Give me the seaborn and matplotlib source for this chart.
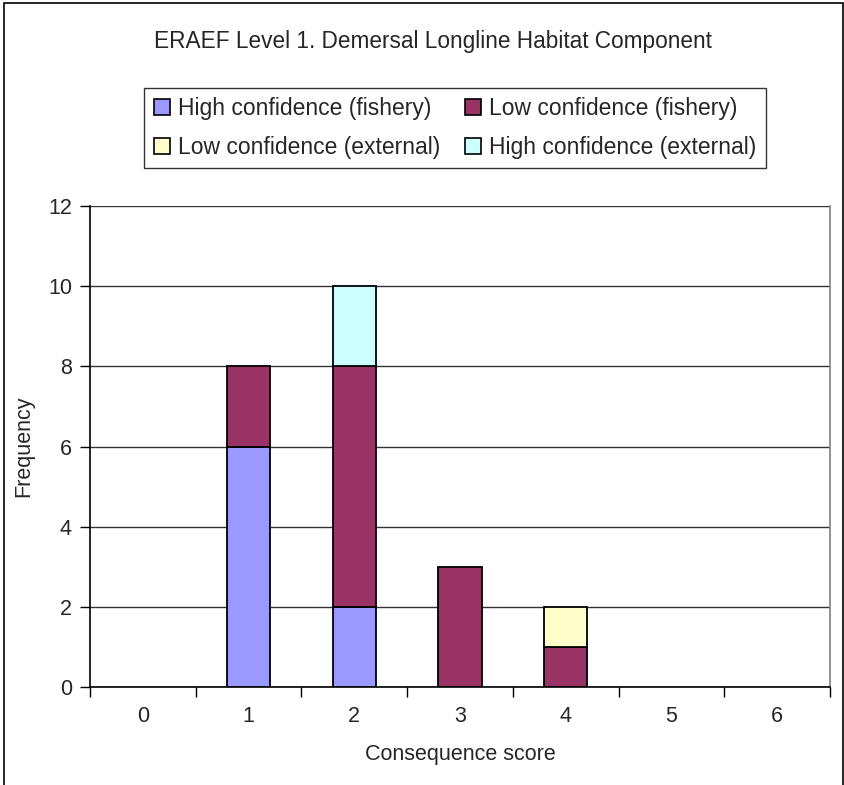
import numpy as np
import pandas as pd
import matplotlib
matplotlib.use("Agg")
import matplotlib.pyplot as plt
from matplotlib.patches import Rectangle
import seaborn as sns

# Consequence scores and frequency of each confidence class
scores = ["0", "1", "2", "3", "4", "5", "6"]
high_fishery = [0, 6, 2, 0, 0, 0, 0]
low_fishery = [0, 2, 6, 3, 1, 0, 0]
low_external = [0, 0, 0, 0, 1, 0, 0]
high_external = [0, 0, 2, 0, 0, 0, 0]

series_names = ["High confidence (fishery)", "Low confidence (fishery)",
                "Low confidence (external)", "High confidence (external)"]
series_values = [high_fishery, low_fishery, low_external, high_external]
series_colors = ["#9999FF", "#993366", "#FFFFCC", "#CCFFFF"]

sns.set_theme(style="white")
plt.rcParams["font.family"] = ["Liberation Sans", "DejaVu Sans"]

fig = plt.figure(figsize=(8.45, 7.85), dpi=100)
ax = fig.add_axes([0.1065, 0.1248, 0.8757, 0.6128])

# Outer chart frame
fig.patches.append(Rectangle((4 / 845, -0.05), 839 / 845, 1.05 - 3 / 785,
                             transform=fig.transFigure, fill=False,
                             edgecolor="black", linewidth=1.2, zorder=0))

df = pd.DataFrame({"score": scores})
bottom = np.zeros(len(scores))
handles = {}
for name, vals, col in zip(series_names, series_values, series_colors):
    df["value"] = vals
    sns.barplot(data=df, x="score", y="value", order=scores, bottom=bottom,
                color=col, saturation=1, width=0.41, edgecolor="black",
                linewidth=1.3, ax=ax, zorder=3)
    handles[name] = Rectangle((0, 0), 1, 1, facecolor=col, edgecolor="black",
                              linewidth=1.2)
    bottom = bottom + np.array(vals)

# Empty segments should leave no outline
for p in ax.patches:
    if p.get_height() == 0:
        p.set_visible(False)

ax.set_xlim(-0.5, 6.5)
ax.set_ylim(0, 12)
ax.set_yticks(range(0, 13, 2))
ax.yaxis.grid(True, color="#333333", linewidth=1.0, zorder=0)
ax.set_axisbelow(True)

ax.set_xticks(range(7))
ax.set_xticklabels(scores)
ax.set_xticks(np.arange(-0.5, 7.0, 1.0), minor=True)
ax.tick_params(axis="x", which="major", length=0, pad=14, labelsize=15.5)
ax.tick_params(axis="x", which="minor", length=7, width=1, color="black",
               direction="out", bottom=True)
ax.tick_params(axis="y", length=7, width=1, color="black", direction="out",
               left=True, pad=6, labelsize=15.5)

for side in ["top", "right"]:
    ax.spines[side].set_color("#808080")
    ax.spines[side].set_linewidth(1.2)
for side in ["left", "bottom"]:
    ax.spines[side].set_color("black")
    ax.spines[side].set_linewidth(1.2)
ax.spines["top"].set_visible(False)

ax.set_xlabel("Consequence score", fontsize=15.5, labelpad=12)
ax.set_ylabel("Frequency", fontsize=15.5, labelpad=10)

fig.text(0.512, 0.9465, "ERAEF Level 1. Demersal Longline Habitat Component",
         ha="center", va="center", fontsize=16.3)

order = [series_names[0], series_names[2], series_names[1], series_names[3]]
leg = fig.legend([handles[n] for n in order], order, ncol=2,
                 loc="center", bbox_to_anchor=(0.5385, 0.837),
                 fontsize=16.5, frameon=True, fancybox=False, edgecolor="black",
                 handlelength=0.7, handleheight=0.7, handletextpad=0.35,
                 columnspacing=1.1, labelspacing=0.7, borderpad=0.4)
leg.get_frame().set_linewidth(1.0)

fig.savefig("out.png", dpi=100)
